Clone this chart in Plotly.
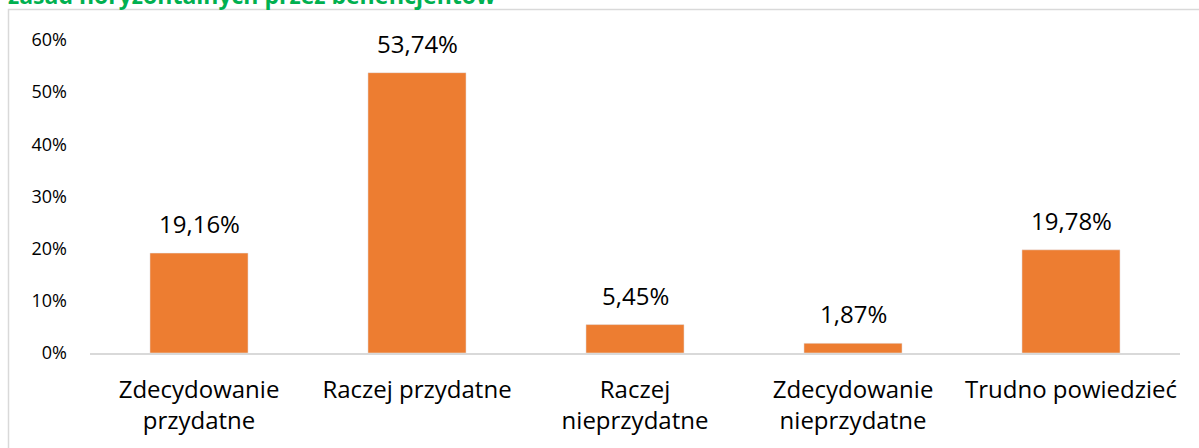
import plotly.graph_objects as go

categories = ["Zdecydowanie<br>przydatne", "Raczej przydatne", "Raczej<br>nieprzydatne",
              "Zdecydowanie<br>nieprzydatne", "Trudno powiedzieć"]
values = [19.16, 53.74, 5.45, 1.87, 19.78]
tick_vals = [0, 10, 20, 30, 40, 50, 60]
tick_text = ["0%", "10%", "20%", "30%", "40%", "50%", "60%"]
title_text = "zasad horyzontalnych przez beneficjentów"

FONT = "Open Sans"
W, H = 1199, 448
L, R, T, B = 90, 19, 40, 95
pw, ph = W - L - R, H - T - B

fig = go.Figure(go.Bar(
    x=categories, y=values, marker_color="#ED7D31", width=0.45,
    hoverinfo="skip",
))

for c, v in zip(categories, values):
    fig.add_annotation(x=c, y=v, xref="x", yref="y",
                       text=f"{v:.2f}%".replace(".", ","),
                       showarrow=False, yanchor="bottom", yshift=11,
                       font=dict(family=FONT, size=24, color="#000000"))

# title (partially cut off at the top, as in the source)
fig.add_annotation(xref="paper", yref="paper", x=(6 - L) / pw, y=(H - B - 13) / ph,
                   xanchor="left", yanchor="bottom", showarrow=False,
                   text=f"<b>{title_text}</b>",
                   font=dict(family=FONT, size=23, color="#00B050"))

# chart border
fig.add_shape(type="rect", xref="paper", yref="paper",
              x0=(8.5 - L) / pw, x1=(W + 20 - L) / pw,
              y0=(H - B - H - 20) / ph, y1=(H - B - 9.5) / ph,
              line=dict(color="#D9D9D9", width=1.5), fillcolor="rgba(0,0,0,0)")

fig.update_layout(
    width=W, height=H,
    margin=dict(l=L, r=R, t=T, b=B),
    paper_bgcolor="white", plot_bgcolor="white",
    showlegend=False,
    font=dict(family=FONT, color="#000000"),
    xaxis=dict(showgrid=False, showline=True, linecolor="#D9D9D9", linewidth=1.5,
               ticks="", tickfont=dict(family=FONT, size=24, color="#000000"),
               ticklabelstandoff=14),
    yaxis=dict(range=[0, 60], tickvals=tick_vals, ticktext=tick_text,
               showgrid=False, zeroline=False, showline=False, ticks="",
               tickfont=dict(family=FONT, size=18, color="#000000"),
               ticklabelstandoff=22),
)

fig.write_html("out.html", config={"displayModeBar": False},
               post_script="document.body.style.margin='0';")
